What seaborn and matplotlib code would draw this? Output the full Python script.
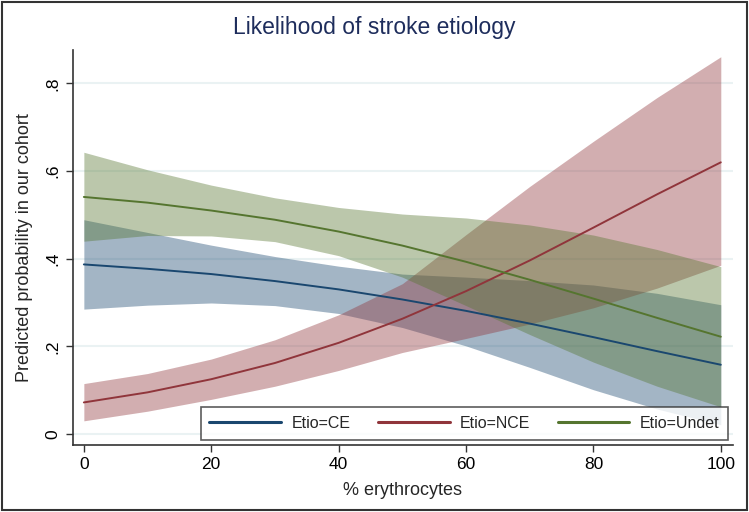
import numpy as np
import pandas as pd
import matplotlib.pyplot as plt
import seaborn as sns
from matplotlib.patches import Rectangle

# % erythrocytes (x) and predicted probabilities
erythro = [0, 10, 20, 30, 40, 50, 60, 70, 80, 90, 100]

ce_mean = [0.387, 0.377, 0.365, 0.349, 0.330, 0.307, 0.281, 0.252, 0.221, 0.189, 0.158]
ce_lo = [0.285, 0.294, 0.299, 0.293, 0.275, 0.243, 0.201, 0.152, 0.101, 0.057, 0.021]
ce_hi = [0.489, 0.460, 0.431, 0.405, 0.383, 0.365, 0.358, 0.350, 0.340, 0.321, 0.295]

nce_mean = [0.072, 0.095, 0.125, 0.162, 0.208, 0.263, 0.326, 0.396, 0.471, 0.547, 0.620]
nce_lo = [0.030, 0.052, 0.079, 0.109, 0.145, 0.186, 0.218, 0.251, 0.288, 0.333, 0.385]
nce_hi = [0.115, 0.138, 0.171, 0.215, 0.272, 0.343, 0.455, 0.565, 0.668, 0.768, 0.861]

und_mean = [0.541, 0.528, 0.510, 0.489, 0.462, 0.430, 0.393, 0.352, 0.309, 0.265, 0.222]
und_lo = [0.440, 0.453, 0.452, 0.439, 0.407, 0.358, 0.293, 0.227, 0.164, 0.109, 0.062]
und_hi = [0.643, 0.603, 0.568, 0.539, 0.517, 0.502, 0.493, 0.477, 0.454, 0.421, 0.382]

labels = ['Etio=CE', 'Etio=NCE', 'Etio=Undet']
colors = ['#1a476f', '#90353b', '#55752f']

y_ticks = [0, 0.2, 0.4, 0.6, 0.8]
y_ticklabels = ['0', '.2', '.4', '.6', '.8']
x_ticks = [0, 20, 40, 60, 80, 100]

# long-format table for seaborn
df = pd.concat([
    pd.DataFrame({'x': erythro, 'p': ce_mean, 'etio': labels[0]}),
    pd.DataFrame({'x': erythro, 'p': nce_mean, 'etio': labels[1]}),
    pd.DataFrame({'x': erythro, 'p': und_mean, 'etio': labels[2]}),
])

sns.set_style('white')
plt.rcParams['font.family'] = ['Liberation Sans', 'DejaVu Sans']

fig = plt.figure(figsize=(7.49, 5.12), dpi=100)
ax = fig.add_axes([0.0975, 0.131, 0.881, 0.771])

# confidence bands
bands = [(ce_lo, ce_hi), (nce_lo, nce_hi), (und_lo, und_hi)]
for (lo, hi), c in zip(bands, colors):
    ax.fill_between(erythro, lo, hi, color=c, alpha=0.4, linewidth=0)

sns.lineplot(data=df, x='x', y='p', hue='etio', palette=colors,
             linewidth=1.4, ax=ax, legend=False)

ax.set_xlim(-1.7, 101.9)
ax.set_ylim(-0.025, 0.876)
ax.set_xticks(x_ticks)
ax.set_yticks(y_ticks)
ax.set_yticklabels(y_ticklabels, rotation=90, va='center')
ax.tick_params(axis='both', direction='out', length=5, width=1, color='#333333',
               labelsize=12.5, labelcolor='black', left=True, bottom=True, pad=4)

ax.grid(axis='y', color='#eaf2f3', linewidth=1.5)
ax.set_axisbelow(True)
for side in ['top', 'right']:
    ax.spines[side].set_visible(False)
for side in ['left', 'bottom']:
    ax.spines[side].set_color('#333333')
    ax.spines[side].set_linewidth(1.2)

ax.set_xlabel('% erythrocytes', fontsize=13, labelpad=7)
ax.set_ylabel('Predicted probability in our cohort', fontsize=13, labelpad=9)
fig.suptitle('Likelihood of stroke etiology', fontsize=16.5, color='#1e2d5c', y=0.968)

# legend handles
handles = [plt.Line2D([], [], color=c, linewidth=2.2) for c in colors]
leg = ax.legend(handles, labels, ncol=3, loc='lower right',
                bbox_to_anchor=(0.993, 0.013), fontsize=11.5,
                handlelength=4.5, handletextpad=0.65, columnspacing=1.7,
                frameon=True, fancybox=False, borderaxespad=0, borderpad=0.55)
leg.get_frame().set_edgecolor('#333333')
leg.get_frame().set_linewidth(1.2)

# outer frame around the whole graph
fig.patches.append(Rectangle((0.003, 0.004), 0.994, 0.992, transform=fig.transFigure,
                             fill=False, edgecolor='#333333', linewidth=1.5))

fig.savefig('out.png', dpi=100)
